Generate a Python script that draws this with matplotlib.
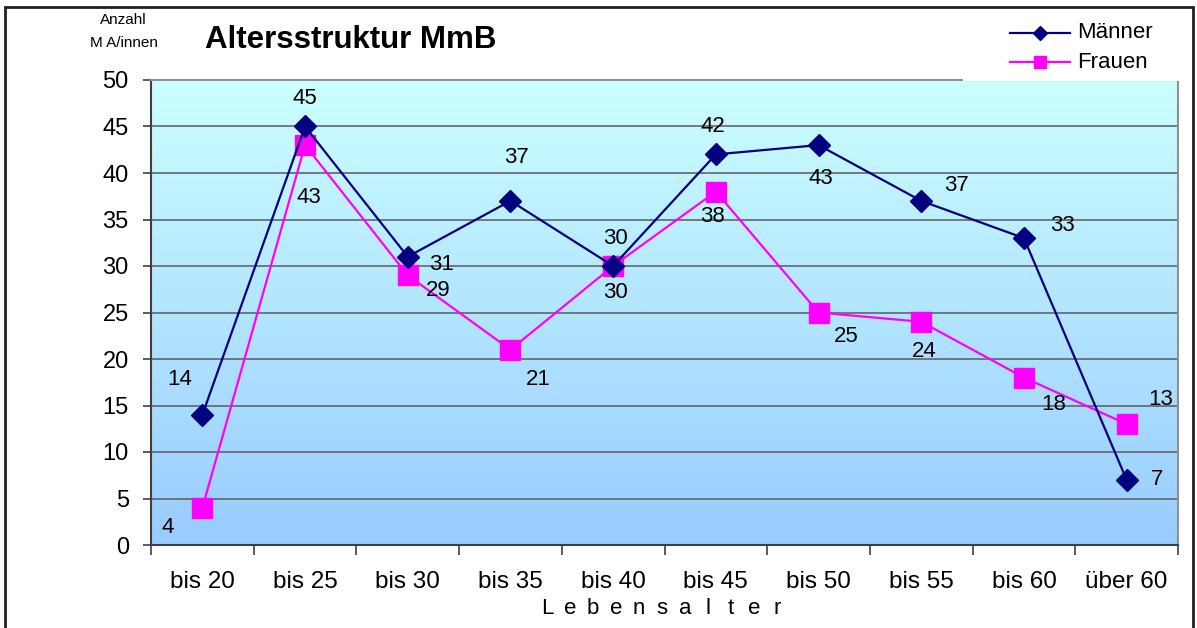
import numpy as np
import matplotlib
matplotlib.use("Agg")
import matplotlib.pyplot as plt
from matplotlib.patches import Rectangle
from matplotlib.lines import Line2D

plt.rcParams['font.family'] = ['Liberation Sans', 'DejaVu Sans']

categories = ["bis 20", "bis 25", "bis 30", "bis 35", "bis 40",
              "bis 45", "bis 50", "bis 55", "bis 60", "über 60"]
maenner = [14, 45, 31, 37, 30, 42, 43, 37, 33, 7]
frauen = [4, 43, 29, 21, 30, 38, 25, 24, 18, 13]
y_ticks = [0, 5, 10, 15, 20, 25, 30, 35, 40, 45, 50]
x_title = "Lebensalter"

# label offsets (pixels: dx, dy up)
m_off = [(-23, 35), (0, 28), (34, -8), (6, 43), (2, 28), (-3, 28), (2, -33), (35, 15), (39, 13), (30, 0)]
f_off = [(-35, -20), (4, -52), (30, -15), (28, -30), (2, -27), (-3, -25), (28, -24), (3, -30), (30, -27), (34, 25)]

W, H = 1197, 628
fig = plt.figure(figsize=(W / 100, H / 100), dpi=100)
fig.patch.set_facecolor('white')

L, R, T, B = 151, 1178, 80, 545
ax = fig.add_axes([L / W, 1 - B / H, (R - L) / W, (B - T) / H])

x = np.arange(len(categories))
ax.set_xlim(-0.5, len(categories) - 0.5)
ax.set_ylim(0, 50)

# gradient background
top = np.array([204, 255, 255]) / 255
bot = np.array([153, 204, 255]) / 255
t = np.linspace(0, 1, 256)[:, None]
grad = (top[None, :] * (1 - t) + bot[None, :] * t)[:, None, :]
ax.imshow(grad, extent=[0, 1, 0, 1], transform=ax.transAxes, aspect='auto', zorder=0)

for yv in y_ticks[1:-1]:
    ax.axhline(yv, color='#5a5a5a', lw=1.1, zorder=1)

ax.plot(x, maenner, color='#000080', lw=1.6, marker='D', ms=11, mfc='#000080', mec='#000080', zorder=4)
ax.plot(x, frauen, color='#FF00FF', lw=1.6, marker='s', ms=14, mfc='#FF00FF', mec='#FF00FF', zorder=3)

px = 72 / 100
for i in range(len(categories)):
    ax.annotate(str(maenner[i]), (x[i], maenner[i]), xytext=(m_off[i][0] * px, m_off[i][1] * px),
                textcoords='offset points', ha='center', va='center', fontsize=16, zorder=5)
    ax.annotate(str(frauen[i]), (x[i], frauen[i]), xytext=(f_off[i][0] * px, f_off[i][1] * px),
                textcoords='offset points', ha='center', va='center', fontsize=16, zorder=5)

ax.set_yticks(y_ticks)
ax.set_yticklabels([str(v) for v in y_ticks], fontsize=17)
ax.set_xticks(x)
ax.set_xticklabels(categories, fontsize=17.5)
ax.tick_params(axis='x', which='major', length=0, pad=19)
ax.set_xticks(np.arange(-0.5, len(categories)), minor=True)
ax.tick_params(axis='x', which='minor', length=7, width=1.2, color='#404040', direction='out')
ax.tick_params(axis='y', length=6, width=1.2, color='#404040', direction='out', pad=10)

for s in ['left', 'bottom']:
    ax.spines[s].set_color('#404040')
    ax.spines[s].set_linewidth(1.5)
for s in ['top', 'right']:
    ax.spines[s].set_color('#909090')
    ax.spines[s].set_linewidth(1.5)

# texts
fig.text(205 / W, 1 - 40 / H, "Altersstruktur MmB", fontsize=22.5, fontweight='bold', ha='left', va='center')
fig.text(123 / W, 1 - 20 / H, "Anzahl", fontsize=11, ha='center', va='center')
fig.text(124 / W, 1 - 43 / H, "M A/innen", fontsize=11, ha='center', va='center')
# letter-spaced axis title
step = 23
x0 = 547
for k, ch in enumerate(x_title):
    fig.text((x0 + k * step) / W, 1 - 614 / H, ch, fontsize=16, ha='center', va='baseline')

# legend box
fig.patches.append(Rectangle((963 / W, 1 - 80.5 / H), (1193 - 963) / W, (80.5 - 7) / H,
                             transform=fig.transFigure, facecolor='white', edgecolor='none', zorder=10))
fig.lines.append(Line2D([1010 / W, 1070 / W], [1 - 33 / H, 1 - 33 / H], transform=fig.transFigure,
                        color='#000080', lw=1.6, zorder=11))
fig.lines.append(Line2D([1040 / W], [1 - 33 / H], transform=fig.transFigure, marker='D', ms=7,
                        color='#000080', zorder=11))
fig.lines.append(Line2D([1010 / W, 1070 / W], [1 - 62 / H, 1 - 62 / H], transform=fig.transFigure,
                        color='#FF00FF', lw=1.6, zorder=11))
fig.lines.append(Line2D([1040 / W], [1 - 62 / H], transform=fig.transFigure, marker='s', ms=9,
                        color='#FF00FF', zorder=11))
fig.text(1077 / W, 1 - 33 / H, "Männer", fontsize=16, ha='left', va='center', zorder=12)
fig.text(1077 / W, 1 - 62 / H, "Frauen", fontsize=16, ha='left', va='center', zorder=12)

# outer border
fig.patches.append(Rectangle((5 / W, -0.05), (1193 - 5) / W, (1 - 7 / H) + 0.05,
                             transform=fig.transFigure, facecolor='none', edgecolor='#202020', lw=2.0, zorder=13))

fig.savefig("out.png", dpi=100)
